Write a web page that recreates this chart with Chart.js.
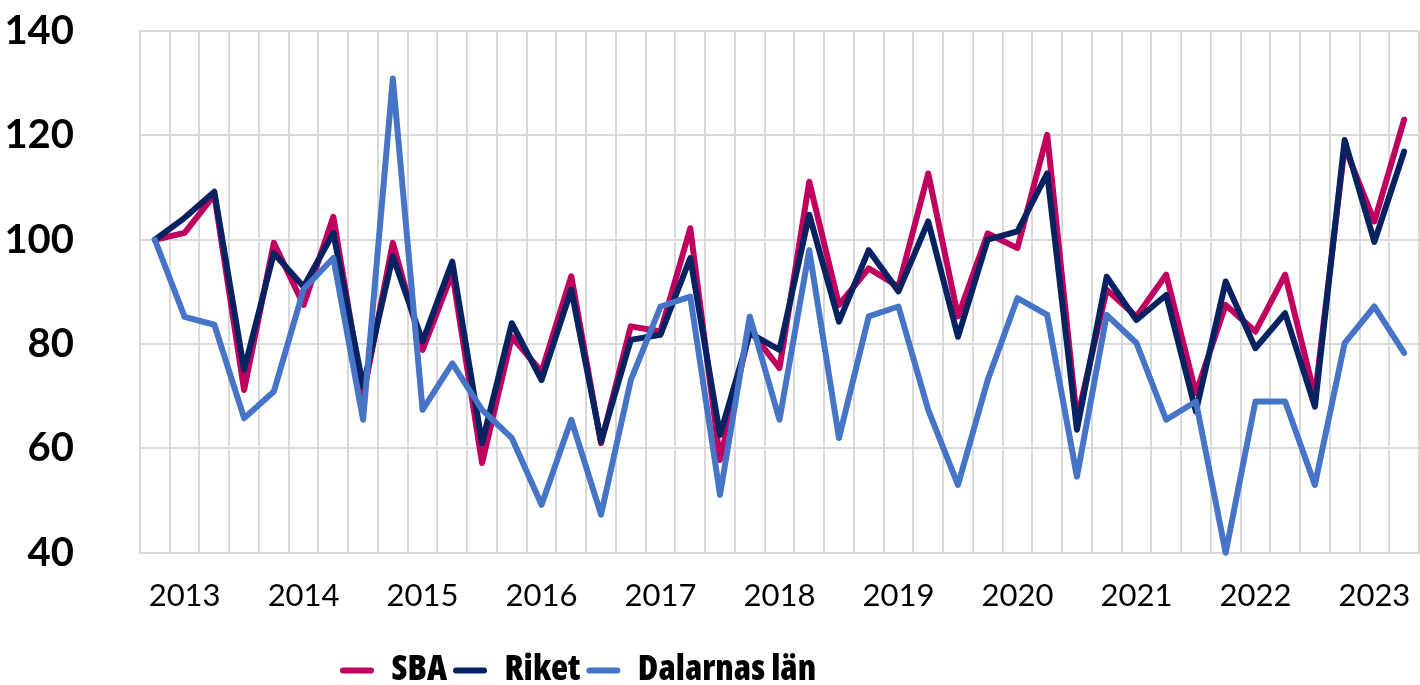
<!DOCTYPE html>
<html>
<head>
<meta charset="utf-8">
<script src="https://cdn.jsdelivr.net/npm/chart.js@4/dist/chart.umd.min.js"></script>
<style>
  html, body { margin: 0; padding: 0; background: #fff; }
  #wrap { width: 1420px; height: 685px; }
</style>
</head>
<body>
<div id="wrap"><canvas id="lineChart"></canvas></div>
<script>
// Quarters 2013 K1 .. 2023 K3
var years = [2013, 2014, 2015, 2016, 2017, 2018, 2019, 2020, 2021, 2022, 2023];
var quarters = [];
years.forEach(function (y) {
    for (var q = 1; q <= 4; q++) {
        if (y === 2023 && q > 3) { break; }
        quarters.push(y + ' K' + q);
    }
});

var sba = [100, 101.3, 108.6, 71.2, 99.4, 87.5, 104.4, 70, 99.4, 78.9, 93.6,
    57.2, 81.4, 74.7, 93.0, 61.0, 83.4, 82.4, 102.2, 57.8, 82.7,
    75.4, 111.1, 87.5, 94.5, 91.0, 112.7, 85.3, 101.2, 98.4, 120.1,
    65.5, 90.4, 85.3, 93.3, 70.6, 87.5, 82.4, 93.3, 70.0, 117.8, 103.5, 123.0];

var riket = [100, 104.2, 109.2, 75.1, 97.4, 91.0, 101.3, 71.9, 96.8, 80.5, 95.8,
    61.0, 84.0, 73.1, 90.4, 61.3, 80.8, 81.8, 96.5, 62.6, 82.1,
    78.9, 104.8, 84.3, 98.0, 90.1, 103.5, 81.4, 100.0, 101.6, 112.7,
    63.6, 92.9, 84.6, 89.4, 67.1, 92.0, 79.2, 85.9, 68.0, 119.1, 99.6, 116.9];

var dalarna = [100, 85.2, 83.7, 65.8, 70.9, 90.5, 96.5, 65.5, 130.9, 67.4, 76.3,
    67.4, 62.0, 49.2, 65.5, 47.3, 73.1, 87.2, 89.1, 51.1, 85.3,
    65.5, 98.0, 62.0, 85.3, 87.2, 67.4, 53.0, 73.1, 88.8, 85.6,
    54.6, 85.6, 80.2, 65.5, 69.0, 40.0, 69.0, 69.0, 53.0, 80.2, 87.2, 78.3];

var yMin = 40, yMax = 140, yStep = 20;

// colours
var cSba = '#C0005F';
var cRiket = '#062260';
var cDalarna = '#4674C6';
var gridColor = '#D9D9D9';

function lineSet(label, data, color, order) {
    return {
        label: label,
        data: data,
        borderColor: color,
        backgroundColor: color,
        borderWidth: 6,
        borderJoinStyle: 'round',
        borderCapStyle: 'round',
        pointRadius: 0,
        tension: 0,
        fill: false,
        clip: false,
        order: order
    };
}

// legend sits left of centre in the original, move it after layout
var legendShift = {
    id: 'legendShift',
    afterLayout: function (ch) {
        var lg = ch.legend;
        var dx = 334, dy = 7;
        lg.left += dx; lg.right += dx;
        lg.top += dy; lg.bottom += dy;
    }
};

var chart = new Chart(document.getElementById('lineChart'), {
    type: 'line',
    data: {
        labels: quarters,
        datasets: [
            lineSet('SBA', sba, cSba, 2),
            lineSet('Riket', riket, cRiket, 1),
            lineSet('Dalarnas län', dalarna, cDalarna, 0)
        ]
    },
    plugins: [legendShift],
    options: {
        responsive: true,
        maintainAspectRatio: false,
        animation: false,
        layout: { padding: { top: 31, right: 1, left: 0, bottom: -6 } },
        plugins: {
            tooltip: { enabled: false },
            legend: {
                position: 'bottom',
                align: 'start',
                labels: {
                    boxWidth: 34,
                    boxHeight: 6,
                    useBorderRadius: true,
                    borderRadius: 3,
                    padding: 6,
                    color: '#000',
                    font: { family: "'Open Sans', sans-serif", size: 35, weight: '800 condensed', lineHeight: 1 },
                    sort: function (a, b) { return a.datasetIndex - b.datasetIndex; },
                    generateLabels: function (ch) {
                        var items = Chart.defaults.plugins.legend.labels.generateLabels(ch);
                        items.forEach(function (it) { it.lineWidth = 0; });
                        return items;
                    }
                }
            }
        },
        scales: {
            x: {
                offset: true,
                grid: { offset: true, color: gridColor, lineWidth: 2, drawTicks: false },
                border: { color: gridColor, width: 2 },
                afterFit: function (scale) { scale.paddingLeft = 0; scale.paddingRight = 0; },
                ticks: {
                    autoSkip: false,
                    maxRotation: 0,
                    padding: 25,
                    color: '#000',
                    font: { family: 'Lato', size: 31 },
                    callback: function (v, i) {
                        var lab = quarters[i];
                        return lab.slice(-2) === 'K2' ? lab.slice(0, 4) : '';
                    }
                }
            },
            y: {
                min: yMin,
                max: yMax,
                grid: { color: gridColor, lineWidth: 2, drawTicks: false },
                border: { color: gridColor, width: 2 },
                afterFit: function (scale) {
                    scale.width = 140;
                    scale.paddingTop = 0;
                    scale.paddingBottom = 0;
                },
                ticks: {
                    stepSize: yStep,
                    padding: 66,
                    color: '#000',
                    font: { family: 'Lato', size: 40, weight: 'bold', lineHeight: 1 }
                }
            }
        }
    }
});
</script>
</body>
</html>
